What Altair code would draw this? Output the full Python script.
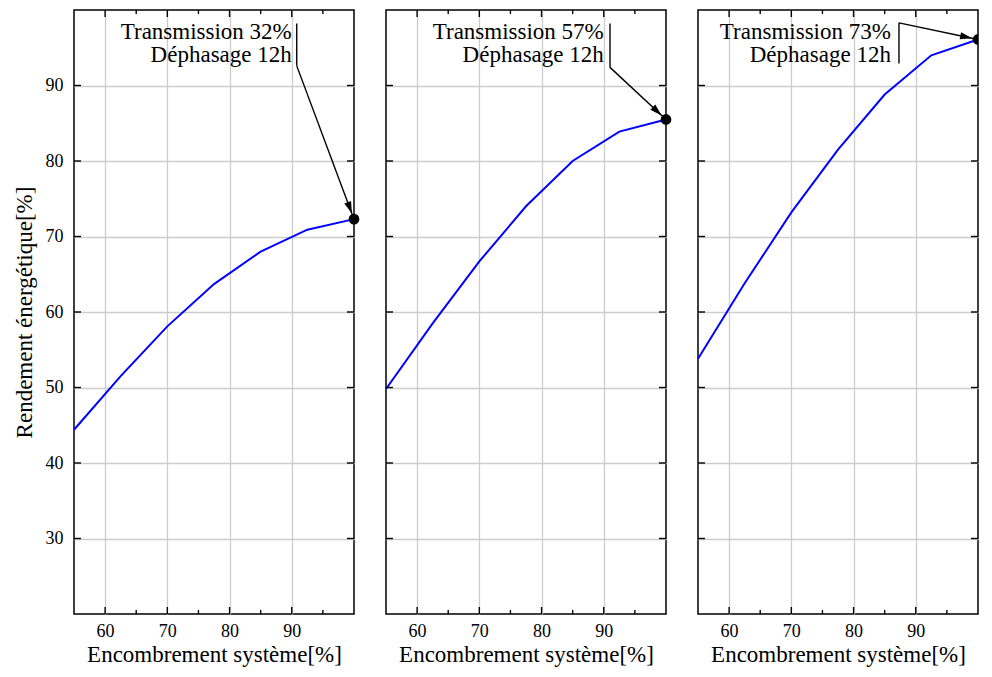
import math
import altair as alt
import pandas as pd

# ---- data ----
encombrement = [55, 62.5, 70, 77.5, 85, 92.5, 100]
rendement_t32 = [44.4, 51.5, 58.1, 63.7, 68.0, 70.9, 72.3]
rendement_t57 = [49.8, 58.5, 66.7, 74.0, 80.0, 83.9, 85.5]
rendement_t73 = [53.8, 63.8, 73.2, 81.5, 88.8, 94.0, 96.1]
series = [rendement_t32, rendement_t57, rendement_t73]
transmissions = ["32%", "57%", "73%"]
dephasage = "12h"

x_major = [60, 70, 80, 90]
x_minor = [65, 75, 85, 95]
y_major = [30, 40, 50, 60, 70, 80, 90]

# annotation anchors (data coordinates)
text_x = [90.0, 90.0, 86.0]
text_y1 = 96.15
text_y2 = 93.05
bar_x = [90.8, 91.0, 87.3]
bar_top = [98.2, 98.2, 98.3]
bar_bottom = [92.6, 92.4, 92.9]
arrow_from_top = [False, False, True]

W, H = 280, 604
X_DOM = [55, 100]
Y_DOM = [20, 100]
FONT = "Liberation Serif"
PX_X = W / (X_DOM[1] - X_DOM[0])
PX_Y = H / (Y_DOM[1] - Y_DOM[0])


def panel(i):
    ys_vals = series[i]
    df = pd.DataFrame({"x": encombrement, "y": ys_vals})
    xs = alt.Scale(domain=X_DOM, nice=False, zero=False)
    ysc = alt.Scale(domain=Y_DOM, nice=False, zero=False)
    xaxis = alt.Axis(values=x_major, title="Encombrement système[%]", grid=True,
                     ticks=False, domain=False, labelPadding=8, titlePadding=3,
                     labelFontSize=18, titleFontSize=23,
                     format="d", labelFlush=False)
    if i == 0:
        yaxis = alt.Axis(values=y_major, title="Rendement énergétique[%]", grid=True,
                         ticks=False, domain=False, labelPadding=11, titlePadding=9,
                         labelFontSize=18, titleFontSize=23,
                         format="d", labelFlush=False)
    else:
        yaxis = alt.Axis(values=y_major, title=None, grid=True, ticks=False,
                         domain=False, labels=False)

    def X(f="x"):
        return alt.X(f + ":Q", scale=xs, axis=xaxis)

    def Y(f="y"):
        return alt.Y(f + ":Q", scale=ysc, axis=yaxis)

    line = alt.Chart(df).mark_line(color="#0000ff", strokeWidth=2).encode(x=X(), y=Y())
    dot = alt.Chart(df.tail(1)).mark_circle(color="black", opacity=1, size=115,
                                            clip=(i == 2)).encode(x=X(), y=Y())

    # inward ticks on all four sides
    tk = dict(color="black", strokeWidth=1.4)
    xmaj = pd.DataFrame({"x": x_major})
    xmin = pd.DataFrame({"x": x_minor})
    ymaj = pd.DataFrame({"y": y_major})
    ticks = [
        alt.Chart(xmaj).mark_rule(**tk).encode(x=X(), y=alt.value(H), y2=alt.value(H - 7)),
        alt.Chart(xmaj).mark_rule(**tk).encode(x=X(), y=alt.value(0), y2=alt.value(7)),
        alt.Chart(xmin).mark_rule(**tk).encode(x=X(), y=alt.value(H), y2=alt.value(H - 4)),
        alt.Chart(xmin).mark_rule(**tk).encode(x=X(), y=alt.value(0), y2=alt.value(4)),
        alt.Chart(ymaj).mark_rule(**tk).encode(y=Y(), x=alt.value(0), x2=alt.value(7)),
        alt.Chart(ymaj).mark_rule(**tk).encode(y=Y(), x=alt.value(W), x2=alt.value(W - 7)),
    ]

    # annotation
    px, py = encombrement[-1], ys_vals[-1]
    start_y = bar_top[i] if arrow_from_top[i] else bar_bottom[i]
    seg = pd.DataFrame({
        "x": [bar_x[i], bar_x[i]],
        "y": [bar_top[i], start_y],
        "x2": [bar_x[i], px],
        "y2": [bar_bottom[i], py],
    })
    dxp = (px - bar_x[i]) * PX_X
    dyp = -(py - start_y) * PX_Y
    n = math.hypot(dxp, dyp)
    ux, uy = dxp / n, dyp / n
    back = 6.0 + 6.0
    head = pd.DataFrame({"x": [px - back * ux / PX_X], "y": [py + back * uy / PX_Y]})
    ang = math.degrees(math.atan2(ux, -uy)) % 360

    segs = alt.Chart(seg).mark_rule(color="black", strokeWidth=1.4).encode(
        x=X(), y=Y(), x2="x2:Q", y2="y2:Q")
    arrow = alt.Chart(head).mark_point(
        shape="M0,-1L-0.6,1L0.6,1Z", filled=True, color="black", opacity=1,
        size=144, angle=ang).encode(x=X(), y=Y())

    txt = pd.DataFrame({
        "x": [text_x[i], text_x[i]],
        "y": [text_y1, text_y2],
        "t": ["Transmission " + transmissions[i], "Déphasage " + dephasage],
    })
    text = alt.Chart(txt).mark_text(align="right", baseline="alphabetic", font=FONT,
                                    fontSize=23, color="black").encode(
        x=X(), y=Y(), text="t:N")

    return alt.layer(line, *ticks, segs, arrow, text, dot).properties(width=W, height=H)


chart = alt.hconcat(panel(0), panel(1), panel(2), spacing=32, bounds="flush").configure_view(
    stroke="black", strokeWidth=1.5
).configure_axis(
    labelFont=FONT, titleFont=FONT,
    labelColor="black", titleColor="black", gridColor="#cccccc", gridWidth=1.3,
    titleFontWeight="normal",
).properties(padding={"left": 4, "top": 0, "right": 0, "bottom": 0})

chart.save("out.html", embed_options={"renderer": "svg", "actions": False})
